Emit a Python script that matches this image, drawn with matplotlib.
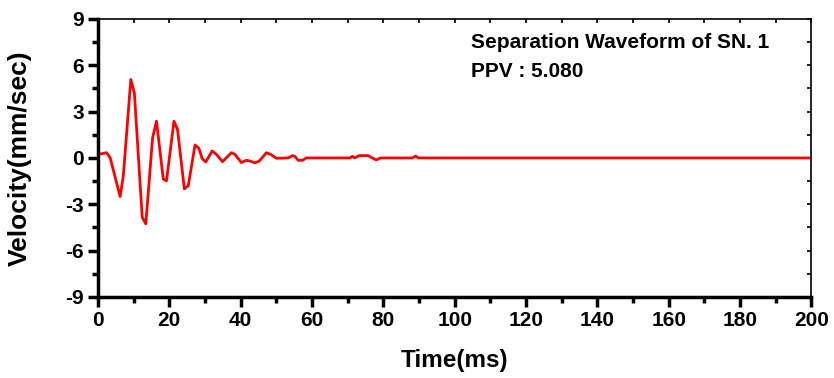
import numpy as np
import matplotlib.pyplot as plt

plt.rcParams['font.family'] = ['Liberation Sans', 'DejaVu Sans']
plt.rcParams['font.weight'] = 'bold'
plt.rcParams['axes.unicode_minus'] = False

# waveform (time in ms, velocity in mm/sec)
time_ms = [0.5, 2.4, 3.4, 6.2, 7.1, 9.2, 10.2, 12.4, 13.4, 15.3, 16.4, 18.3, 19.2,
           21.3, 22.3, 24.2, 25.3, 27.2, 28.3, 29.2, 30.2, 32.0, 33.2, 34.9, 37.4,
           38.4, 40.2, 41.6, 42.6, 44.0, 45.2, 47.2, 48.4, 50.0, 53.3, 54.5, 55.2,
           56.1, 57.4, 58.3, 70.6, 71.3, 72.0, 73.2, 75.7, 76.9, 78.0, 79.2, 88.2,
           89.0, 89.8, 200.0]
velocity = [0.25, 0.34, 0.02, -2.5, -1.16, 5.08, 4.2, -3.84, -4.26, 1.3, 2.38, -1.37, -1.48,
            2.38, 1.84, -2.0, -1.8, 0.84, 0.62, -0.04, -0.26, 0.45, 0.23, -0.24, 0.34,
            0.23, -0.3, -0.15, -0.2, -0.32, -0.2, 0.34, 0.23, -0.02, 0.0, 0.15, 0.1,
            -0.15, -0.15, 0.0, 0.0, 0.1, 0.0, 0.15, 0.15, 0.0, -0.13, 0.0, 0.0,
            0.12, 0.0, 0.0]
ppv = 5.080

fig = plt.figure(figsize=(8.34, 3.78), dpi=100)
ax = fig.add_axes([0.1175, 0.2143, 0.8555, 0.7357])

ax.plot(time_ms, velocity, color='red', linewidth=2.0)

ax.set_xlim(0, 200)
ax.set_ylim(-9, 9)
ax.set_xticks(np.arange(0, 201, 20))
ax.set_xticks(np.arange(10, 200, 20), minor=True)
ax.set_yticks(np.arange(-9, 10, 3))
ax.set_yticks(np.arange(-7.5, 9, 3), minor=True)

for side in ['left', 'bottom']:
    ax.spines[side].set_linewidth(2.5)
for side in ['top', 'right']:
    ax.spines[side].set_linewidth(1.2)

ax.tick_params(which='major', direction='out', length=7, width=2.5, labelsize=15,
               pad=3)
ax.tick_params(which='minor', direction='out', length=4, width=2.5)
ax.tick_params(which='both', top=False, right=False)

# small inward ticks on the top and right frame
secx = ax.secondary_xaxis('top')
secx.set_xticks(np.arange(0, 201, 10))
secx.tick_params(direction='in', length=3, width=1.2, labeltop=False)
secx.spines['top'].set_visible(False)
secy = ax.secondary_yaxis('right')
secy.set_yticks(np.arange(-9, 10, 1.5))
secy.tick_params(direction='in', length=3, width=1.2, labelright=False)
secy.spines['right'].set_visible(False)

for lbl in ax.get_xticklabels() + ax.get_yticklabels():
    lbl.set_fontweight('bold')

ax.set_xlabel('Time(ms)', fontsize=17.5, fontweight='bold', labelpad=14)
ax.set_ylabel('Velocity(mm/sec)', fontsize=19, fontweight='bold', labelpad=24)

ax.text(0.5224, 0.8957, 'Separation Waveform of SN. 1', transform=ax.transAxes,
        fontsize=15, fontweight='bold', va='baseline', ha='left')
ax.text(0.5224, 0.7914, 'PPV : %.3f' % ppv, transform=ax.transAxes,
        fontsize=15, fontweight='bold', va='baseline', ha='left')

fig.savefig('out.png', dpi=100)
